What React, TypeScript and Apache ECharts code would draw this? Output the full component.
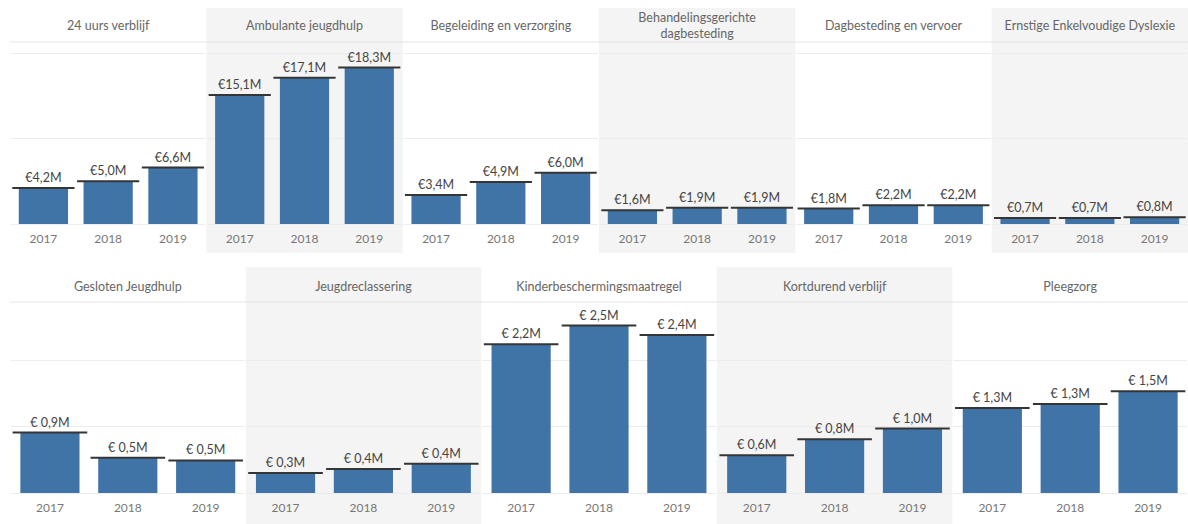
import React, { useEffect, useRef } from "react";
import * as echarts from "echarts";

const years = ["2017", "2018", "2019"];

const topCategories = [
  "24 uurs verblijf",
  "Ambulante jeugdhulp",
  "Begeleiding en verzorging",
  "Behandelingsgerichte\ndagbesteding",
  "Dagbesteding en vervoer",
  "Ernstige Enkelvoudige Dyslexie",
];
const topValues = [
  [4.2, 5.0, 6.6],
  [15.1, 17.1, 18.3],
  [3.4, 4.9, 6.0],
  [1.6, 1.9, 1.9],
  [1.8, 2.2, 2.2],
  [0.7, 0.7, 0.8],
];

const bottomCategories = [
  "Gesloten Jeugdhulp",
  "Jeugdreclassering",
  "Kinderbeschermingsmaatregel",
  "Kortdurend verblijf",
  "Pleegzorg",
];
const bottomValues = [
  [0.91, 0.53, 0.49],
  [0.3, 0.36, 0.44],
  [2.24, 2.52, 2.38],
  [0.57, 0.81, 0.97],
  [1.28, 1.34, 1.53],
];

const topAxis = { min: 0, max: 20, interval: 10 };
const bottomAxis = { min: 0, max: 2.8, interval: 1 };

const W = 1188;
const H = 524;
const FONT = "Lato, 'Open Sans', sans-serif";
const BAR = "#4074a7";
const GREY = "#f4f4f4";

export default function App() {
  const ref = useRef<HTMLDivElement>(null);

  useEffect(() => {
    document.body.style.margin = "0";
    if (!ref.current) return;
    const chart = echarts.init(ref.current, undefined, { renderer: "svg" });

    const rows = [
      {
        cats: topCategories,
        vals: topValues,
        axis: topAxis,
        showMax: true,
        bgTop: 8,
        bgBottom: 253,
        headerY: 25,
        sepY: 42,
        gridTop: 53,
        baseline: 224,
        fmt: (v: number) => "€" + v.toFixed(1).replace(".", ",") + "M",
      },
      {
        cats: bottomCategories,
        vals: bottomValues,
        axis: bottomAxis,
        showMax: false,
        bgTop: 267,
        bgBottom: 524,
        headerY: 286,
        sepY: 302,
        gridTop: 307,
        baseline: 493,
        fmt: (v: number) => "€ " + v.toFixed(1).replace(".", ",") + "M",
      },
    ];

    const grid: any[] = [];
    const xAxis: any[] = [];
    const yAxis: any[] = [];
    const series: any[] = [];
    const graphic: any[] = [];
    const L = 10;
    const R = 1188;

    rows.forEach((row) => {
      const n = row.cats.length;
      const pw = (R - L) / n;
      graphic.push({
        type: "line",
        z: -5,
        shape: { x1: L, y1: row.sepY, x2: R, y2: row.sepY },
        style: { stroke: "#e4e4e4", lineWidth: 1 },
      });
      row.cats.forEach((cat, i) => {
        const x0 = L + i * pw;
        if (i % 2 === 1) {
          graphic.push({
            type: "rect",
            z: -10,
            shape: { x: x0, y: row.bgTop, width: pw, height: row.bgBottom - row.bgTop },
            style: { fill: GREY },
          });
        }
        graphic.push({
          type: "text",
          x: x0 + pw / 2,
          y: row.headerY,
          style: {
            text: cat,
            fill: "#666",
            fontSize: 12.5,
            fontFamily: FONT,
            align: "center",
            verticalAlign: "middle",
            lineHeight: 16,
          },
        });
        const gi = grid.length;
        grid.push({
          left: x0 + 1,
          width: pw - 2,
          top: row.gridTop,
          height: row.baseline - row.gridTop,
        });
        xAxis.push({
          type: "category",
          gridIndex: gi,
          data: years,
          axisLine: { show: false },
          axisTick: { show: false },
          axisLabel: { color: "#777", fontSize: 12, fontFamily: FONT, margin: 8 },
        });
        yAxis.push({
          type: "value",
          gridIndex: gi,
          min: row.axis.min,
          max: row.axis.max,
          interval: row.axis.interval,
          axisLine: { show: false },
          axisTick: { show: false },
          axisLabel: { show: false },
          splitLine: {
            show: true,
            showMaxLine: row.showMax,
            lineStyle: { color: "#ececec", width: 1 },
          },
        });
        series.push({
          type: "bar",
          xAxisIndex: gi,
          yAxisIndex: gi,
          data: row.vals[i],
          barWidth: "76%",
          itemStyle: { color: BAR },
          silent: true,
        });
        series.push({
          type: "scatter",
          xAxisIndex: gi,
          yAxisIndex: gi,
          data: row.vals[i],
          symbol: "rect",
          symbolSize: [(pw / 3) * 0.95, 2],
          itemStyle: { color: "#353535", opacity: 1 },
          z: 5,
          silent: true,
          label: {
            show: true,
            position: "top",
            distance: 3,
            color: "#444",
            fontSize: 12.5,
            fontFamily: FONT,
            formatter: (p: any) => row.fmt(p.value as number),
          },
        });
      });
    });

    chart.setOption({
      animation: false,
      backgroundColor: "#fff",
      grid,
      xAxis,
      yAxis,
      series,
      graphic,
    });

    return () => chart.dispose();
  }, []);

  return <div ref={ref} style={{ width: W, height: H }} />;
}
